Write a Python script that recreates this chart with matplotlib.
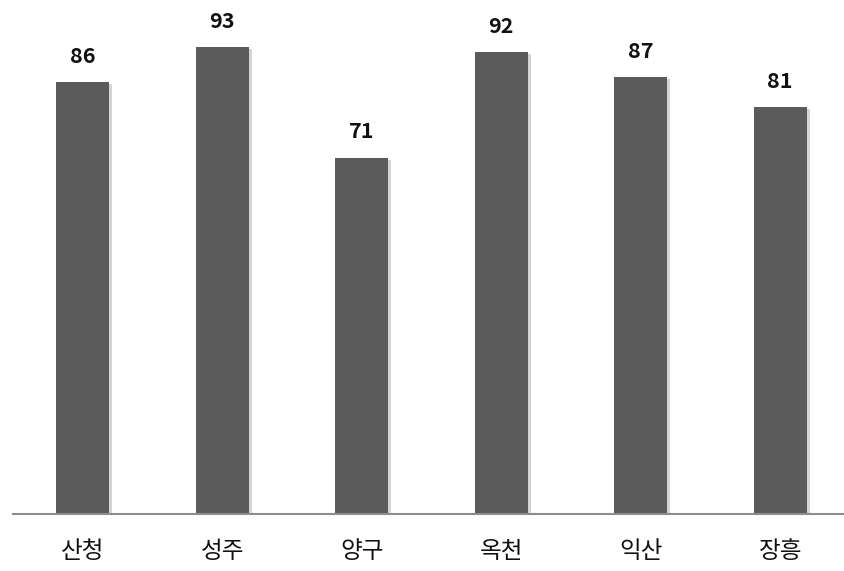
import matplotlib
matplotlib.use("Agg")
import matplotlib.pyplot as plt

plt.rcParams['font.family'] = ['Noto Sans CJK KR', 'DejaVu Sans']

categories = ['산청', '성주', '양구', '옥천', '익산', '장흥']
values = [86, 93, 71, 92, 87, 81]

fig = plt.figure(figsize=(8.44, 5.71), dpi=100)
ax = fig.add_axes([13/844, 57/571, 831/844, 502/571])

x = list(range(len(categories)))
bw = 0.38
# shadows
ax.bar([i + 0.022 for i in x], [v - 0.4 for v in values], width=bw, color='#d4d4d4', zorder=1)
ax.bar(x, values, width=bw, color='#5b5b5b', zorder=2)

for i, v in zip(x, values):
    ax.text(i, v + 5.1, str(v), ha='center', va='center', fontsize=15.5, fontweight='bold', color='#111111')

ax.set_xlim(-0.5, 5.457)
ax.set_ylim(0, 100)
ax.set_xticks(x)
ax.set_xticklabels(categories, fontsize=17, fontweight='medium', color='#111111')
ax.tick_params(axis='x', length=0, pad=19)
ax.set_yticks([])
for s in ['top', 'right', 'left']:
    ax.spines[s].set_visible(False)
ax.spines['bottom'].set_color('#8c8c8c')
ax.spines['bottom'].set_linewidth(1.5)

fig.savefig('out.png', dpi=100)
